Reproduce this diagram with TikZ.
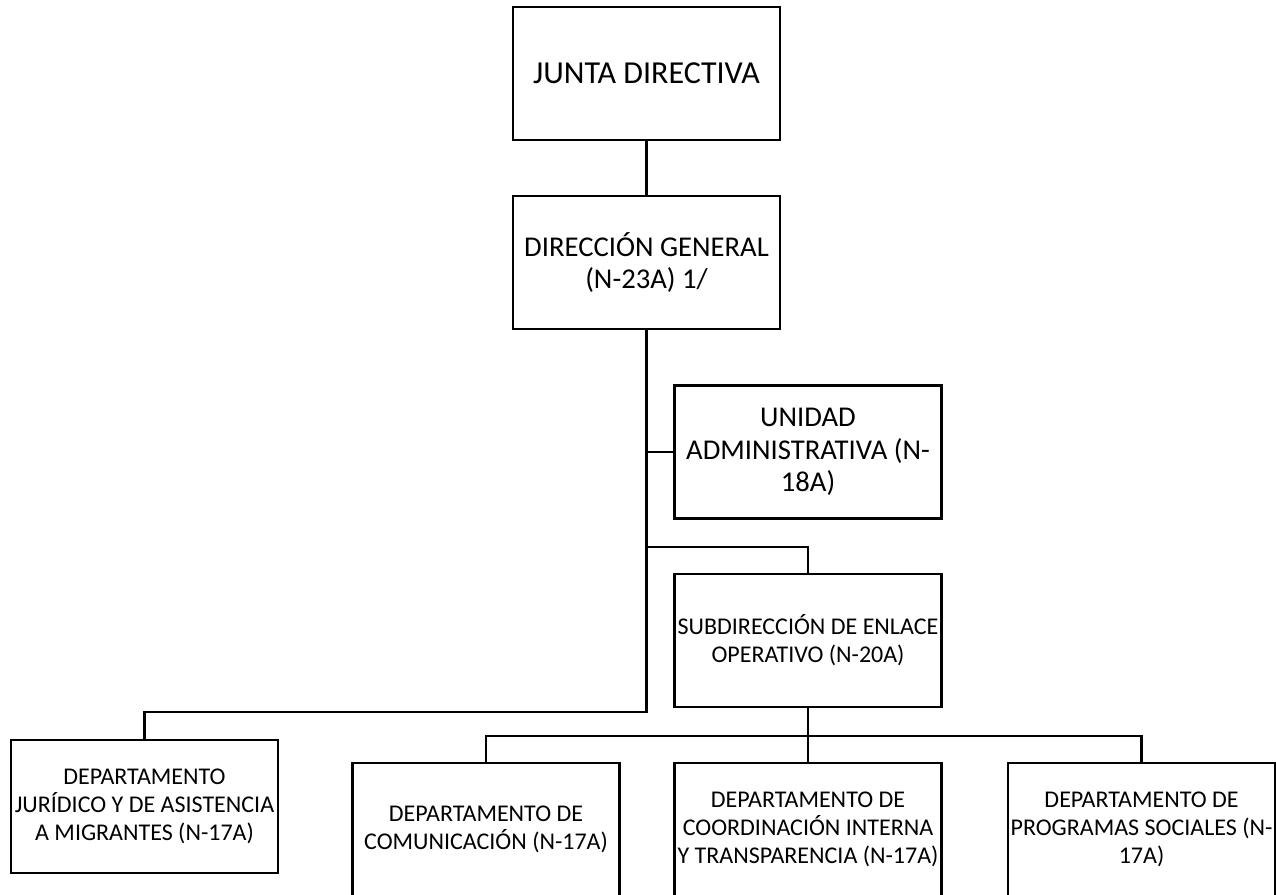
\documentclass[tikz,border=0pt]{standalone}
\usepackage{fontspec}
\setmainfont{Carlito}
\usetikzlibrary{positioning}

\begin{document}
\begin{tikzpicture}[x=0.75pt, y=-0.75pt, line width=1.8pt,
    box/.style = {draw, rectangle, minimum width=200pt, minimum height=100pt, align=center, inner sep=0pt},
    big/.style = {font=\fontsize{24}{29}\selectfont},
    mid/.style = {font=\fontsize{21.5}{24.5}\selectfont},
    small/.style = {font=\fontsize{18}{21}\selectfont}]
    \useasboundingbox (0,0) rectangle (1276,894);

    \node[box, big] (JD) at (646.5,73.5) {JUNTA DIRECTIVA};
    \node[box, mid] (DG) at (646.5,262.5) {DIRECCIÓN GENERAL\\(N-23A) 1/};
    \node[box, mid] (UA) at (808,452) {UNIDAD\\ADMINISTRATIVA (N-\\18A)};
    \node[box, small] (SEO) at (808,640.5) {SUBDIRECCIÓN DE ENLACE\\OPERATIVO (N-20A)};
    \node[box, small] (DJ) at (144.5,806.5) {DEPARTAMENTO\\JURÍDICO Y DE ASISTENCIA\\A MIGRANTES (N-17A)};
    \node[box, small] (DC) at (486,829.5) {DEPARTAMENTO DE\\COMUNICACIÓN (N-17A)};
    \node[box, small] (DCI) at (808,829.5) {DEPARTAMENTO DE\\COORDINACIÓN INTERNA\\Y TRANSPARENCIA (N-17A)};
    \node[box, small] (DPS) at (1141.5,829.5) {DEPARTAMENTO DE\\PROGRAMAS SOCIALES (N-\\17A)};

    \coordinate (a) at (DG.south |- 0,547);
    \coordinate (b) at (DG.south |- 0,712);
    \coordinate (c) at (SEO.south |- 0,736);

    \draw (JD) -- (DG);
    \draw (DG.south) -- (b) -| (DJ.north);
    \draw (DG.south |- UA.west) -- (UA.west);
    \draw (a) -| (SEO.north);
    \draw (SEO.south) -- (DCI.north);
    \draw (c) -| (DC.north);
    \draw (c) -| (DPS.north);
\end{tikzpicture}
\end{document}
